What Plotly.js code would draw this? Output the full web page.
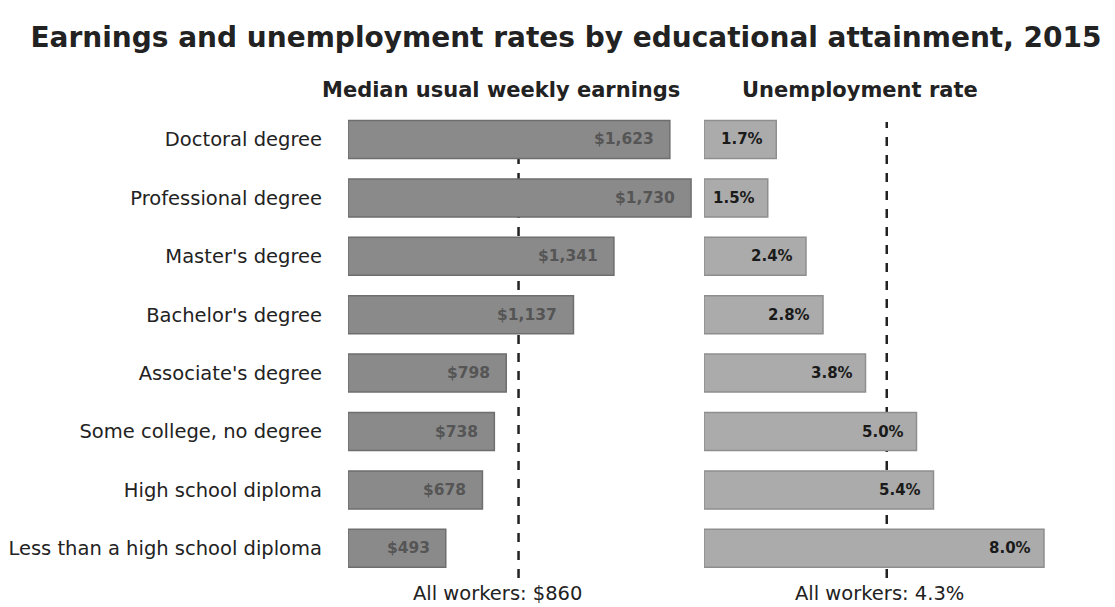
<!DOCTYPE html>
<html>
<head>
<meta charset="utf-8">
<script src="https://cdn.plot.ly/plotly-3.0.1.min.js"></script>
<style>html,body{margin:0;padding:0;background:#fff;}#chart{width:1115px;height:607px;}</style>
</head>
<body>
<div id="chart"></div>
<script>
const categories = ["Doctoral degree","Professional degree","Master's degree","Bachelor's degree","Associate's degree","Some college, no degree","High school diploma","Less than a high school diploma"];
const earnings = [1623, 1730, 1341, 1137, 798, 738, 678, 493];
const earningsLabels = ["$1,623","$1,730","$1,341","$1,137","$798","$738","$678","$493"];
const unemployment = [1.7, 1.5, 2.4, 2.8, 3.8, 5.0, 5.4, 8.0];
const unemploymentLabels = ["1.7%","1.5%","2.4%","2.8%","3.8%","5.0%","5.4%","8.0%"];
const allWorkersEarnings = 860;
const allWorkersUnemployment = 4.3;

const W = 1115, H = 607;
const font = "'DejaVu Sans', sans-serif";
const px = v => v / W;
const py = v => 1 - v / H;

const traces = [
  {type:'bar', orientation:'h', y:categories, x:earnings,
   marker:{color:'#8a8a8a', line:{color:'#6e6e6e', width:1.5}},
   width:0.65, xaxis:'x', yaxis:'y', hoverinfo:'skip'},
  {type:'bar', orientation:'h', y:categories, x:unemployment,
   marker:{color:'#ababab', line:{color:'#8e8e8e', width:1.5}},
   width:0.65, xaxis:'x2', yaxis:'y2', hoverinfo:'skip'}
];

const annotations = [
  {xref:'paper', yref:'paper', x:px(501), y:py(90), text:'<b>Median usual weekly earnings</b>', showarrow:false,
   font:{family:font, size:21, color:'#222'}, xanchor:'center', yanchor:'middle'},
  {xref:'paper', yref:'paper', x:px(860), y:py(90), text:'<b>Unemployment rate</b>', showarrow:false,
   font:{family:font, size:21, color:'#222'}, xanchor:'center', yanchor:'middle'},
  {xref:'paper', yref:'paper', x:px(497), y:py(593), text:'All workers: $' + allWorkersEarnings, showarrow:false,
   font:{family:font, size:19.5, color:'#222'}, xanchor:'center', yanchor:'middle'},
  {xref:'paper', yref:'paper', x:px(879), y:py(593), text:'All workers: ' + allWorkersUnemployment + '%', showarrow:false,
   font:{family:font, size:19.5, color:'#222'}, xanchor:'center', yanchor:'middle'}
];
categories.forEach((c, i) => {
  annotations.push({xref:'x', yref:'y', x:earnings[i], y:c, text:earningsLabels[i], showarrow:false,
    xanchor:'right', yanchor:'middle', xshift:-14,
    font:{family:font, size:15.5, color:'#555555', weight:'bold'}});
  annotations.push({xref:'x2', yref:'y2', x:unemployment[i], y:c, text:unemploymentLabels[i], showarrow:false,
    xanchor:'right', yanchor:'middle', xshift:-11,
    font:{family:font, size:15, color:'#1a1a1a', weight:'bold'}});
});

const yDomain = [1 - 577.5/H, 1 - 110.3/H];
const layout = {
  width:W, height:H, margin:{l:0,r:0,t:0,b:0},
  paper_bgcolor:'#fff', plot_bgcolor:'rgba(0,0,0,0)',
  showlegend:false,
  font:{family:font, color:'#222'},
  title:{text:'<b>Earnings and unemployment rates by educational attainment, 2015</b>',
         font:{family:font, size:28, color:'#222'}, x:px(566), xanchor:'center', y:py(37), yanchor:'middle'},
  xaxis:{domain:[px(348), px(700)], range:[0, 352/0.1983], showgrid:false, zeroline:false, showticklabels:false, showline:false, ticks:''},
  xaxis2:{domain:[px(704), 1], range:[0, 411/42.5], showgrid:false, zeroline:false, showticklabels:false, showline:false, ticks:''},
  yaxis:{domain:yDomain, autorange:'reversed', type:'category', showgrid:false, zeroline:false, showline:false, ticks:'',
         ticklabelstandoff:25, tickfont:{family:font, size:19.5, color:'#222'}},
  yaxis2:{domain:yDomain, anchor:'x2', autorange:'reversed', type:'category', showgrid:false, zeroline:false, showline:false, ticks:'', showticklabels:false, matches:'y'},
  shapes:[
    {type:'line', xref:'x', yref:'paper', x0:allWorkersEarnings, x1:allWorkersEarnings, y0:py(578), y1:py(120),
     line:{color:'#222', width:2.5, dash:'dash'}, layer:'below'},
    {type:'line', xref:'x2', yref:'paper', x0:allWorkersUnemployment, x1:allWorkersUnemployment, y0:py(578), y1:py(122),
     line:{color:'#222', width:2.5, dash:'dash'}, layer:'below'}
  ],
  annotations:annotations
};
Plotly.newPlot('chart', traces, layout, {staticPlot:true, displayModeBar:false});
</script>
</body>
</html>
